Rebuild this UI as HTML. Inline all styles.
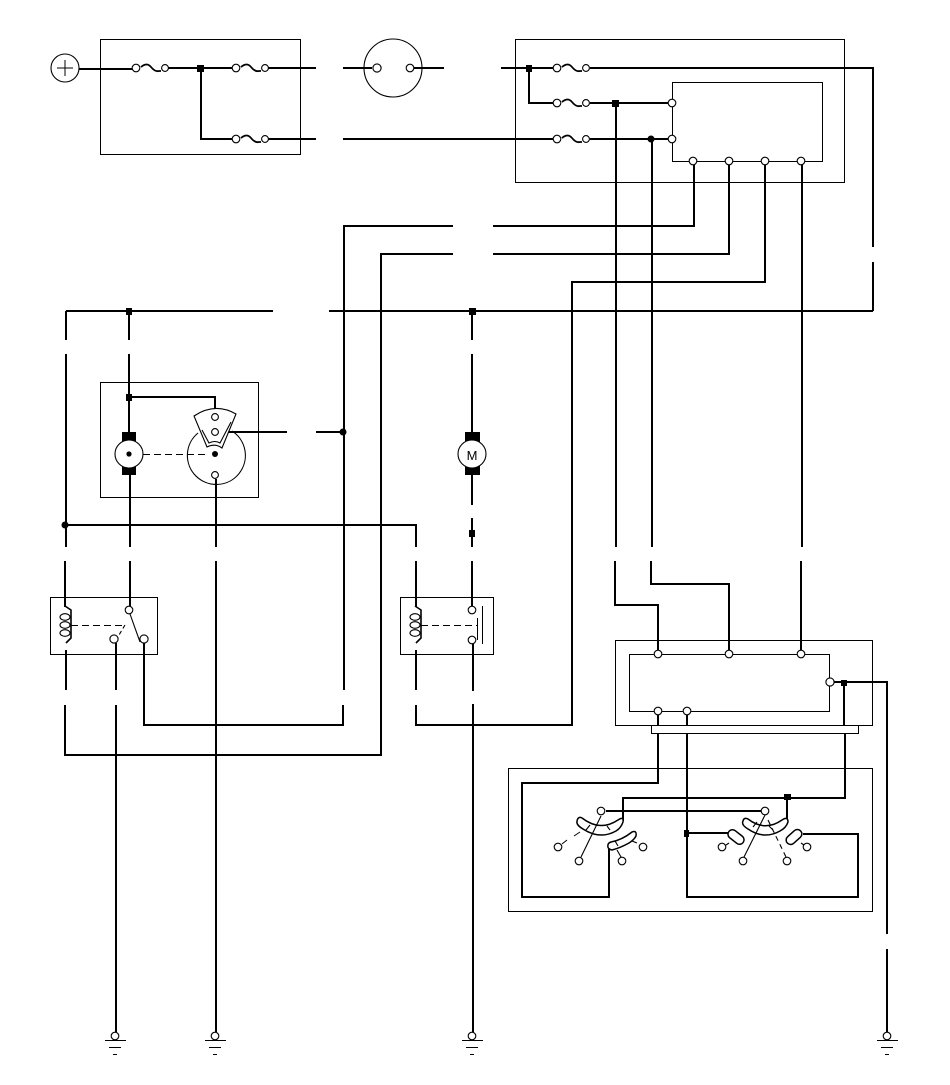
<!DOCTYPE html>
<html><head><meta charset="utf-8"><style>html,body{margin:0;padding:0;background:#fff}svg{display:block}</style></head><body>
<svg xmlns="http://www.w3.org/2000/svg" width="950" height="1085" viewBox="0 0 950 1085">
<rect width="950" height="1085" fill="#fff"/>
<g fill="none" stroke="#000" stroke-width="1" shape-rendering="crispEdges">
<rect x="100.5" y="39.5" width="200" height="115"/>
<rect x="515.5" y="39.5" width="329" height="143"/>
<rect x="672.5" y="82.5" width="150" height="79"/>
<rect x="100.5" y="382.5" width="158" height="115"/>
<rect x="50.5" y="597.5" width="107" height="57"/>
<rect x="400.5" y="597.5" width="93" height="57"/>
<rect x="615.5" y="640.5" width="257" height="85"/>
<rect x="629.5" y="654.5" width="200" height="57"/>
<rect x="651.5" y="725.5" width="207" height="8"/>
<rect x="508.5" y="768.5" width="364" height="143"/>
</g>
<g fill="none" stroke="#000" stroke-width="2.3" stroke-linejoin="miter" stroke-linecap="butt" shape-rendering="crispEdges">
<path d="M79 69H133M168 68H232M268 68H316M201 68V139H232M268 139H316M343 68H372M414 68H444"/>
<path d="M501 68H553M590 68H873V247M873 262V311"/>
<path d="M529 68V103H553M590 103H669M343 139H553M590 139H669"/>
<path d="M616 103V547M615 561V605H658V650M652 139V547M651 561V584H729V650M802 165V547M801 561V650"/>
<path d="M694 165V226H493M453 226H344V690M343 705V725H144V643"/>
<path d="M729 165V254H493M453 254H381V755H65V705"/>
<path d="M765 165V282H572V725H416V705"/>
<path d="M66 311V340M66 354V547M65 561V607M66 311H273M329 311H873"/>
<path d="M129 311V340M129 354V434M129 397H215V412M130 475V547M130 561V606"/>
<path d="M219 432H287M316 432H343"/>
<path d="M216 479V547M216 561V1032"/>
<path d="M472 311V340M472 354V434M472 475V505M472 518V547M472 561V606M473 644V691M473 704V1032"/>
<path d="M66 525H416V547M416 561V607M416 650V690"/>
<path d="M66 650V690M116 643V690M116 705V1032"/>
<path d="M658 715V726M658 733V783H522V897H609V846"/>
<path d="M687 715V726M687 733V897H858V834H803M687 833H730"/>
<path d="M834 682H887V934M887 949V1032M844 682V726M845 733V798H623V821M787 798V821M606 811H761"/>
</g>
<g fill="#000" shape-rendering="crispEdges">
<rect x="197" y="65" width="7" height="7"/><rect x="526" y="65" width="6" height="7"/><rect x="612" y="100" width="7" height="7"/>
<rect x="126" y="308" width="6" height="7"/><rect x="126" y="394" width="6" height="7"/><rect x="469" y="308" width="7" height="7"/>
<rect x="469" y="530" width="6" height="7"/><rect x="841" y="680" width="6" height="6"/><rect x="784" y="794" width="7" height="6"/><rect x="684" y="830" width="5" height="7"/>
<rect x="122" y="432" width="14" height="10"/><rect x="122" y="466" width="14" height="9"/>
<rect x="465" y="432" width="15" height="10"/><rect x="465" y="466" width="15" height="9"/>
</g>
<g fill="#000"><circle cx="651" cy="139" r="3.5"/><circle cx="343" cy="432" r="3.5"/><circle cx="65" cy="525" r="3.5"/></g>
<g fill="none" stroke="#000" stroke-width="1.1">
<circle cx="65" cy="68" r="14"/><path d="M57 68H73M65 60V76" shape-rendering="crispEdges"/>
<circle cx="393" cy="68" r="29"/>
<path d="M141 67Q147 62 151 67T159 71H161M241 67Q247 62 251 67T259 71H261M241 138Q247 133 251 138T259 142H261M562 67Q568 62 572 67T580 71H582M562 102Q568 97 572 102T580 106H582M562 138Q568 133 572 138T580 142H582" stroke-width="1.8"/>
<circle cx="129" cy="454" r="14" fill="#fff"/><circle cx="472" cy="454" r="14" fill="#fff"/>
<path d="M198 433A29 29 0 1 0 232 431"/>
<path d="M194 416Q215 402 236 414L222 448Q215 443 207 447Z" fill="#fff"/>
<path d="M202 430L209 443Q215 440 220 443L231 422" />
<path d="M143 454.5H208" stroke-dasharray="7 4" shape-rendering="crispEdges" stroke-width="1.3"/>
<path d="M105 1040.5H126M109 1047.5H121M113 1054.5H117M205 1040.5H226M209 1047.5H221M213 1054.5H217M462 1040.5H483M466 1047.5H478M470 1054.5H474M877 1040.5H898M881 1047.5H893M885 1054.5H889" shape-rendering="crispEdges"/>
<path d="M65 606L71 610V638L66 643M415 606L421 610V638L416 643" stroke-width="1.6"/>
<ellipse cx="65" cy="617" rx="5" ry="3.3"/><ellipse cx="65" cy="625" rx="5" ry="3.3"/><ellipse cx="65" cy="633" rx="5" ry="3.3"/>
<ellipse cx="415" cy="617" rx="5" ry="3.3"/><ellipse cx="415" cy="625" rx="5" ry="3.3"/><ellipse cx="415" cy="633" rx="5" ry="3.3"/>
<path d="M71 625.5H126M421 625.5H477" stroke-dasharray="7 4" shape-rendering="crispEdges" stroke-width="1.3"/>
<path d="M130 614L140 642"/><path d="M125 625L119 635" stroke-dasharray="4 3"/>
<path d="M482.5 606V644" shape-rendering="crispEdges"/><path d="M477.5 618V640" shape-rendering="crispEdges" stroke-width="1.4"/>
<path d="M582 818Q600 832 618 820Q624 816 623 822Q621 828 616 831Q600 840 583 829Q576 825 577 821Q578 816 582 818Z" stroke-width="1.5" fill="#fff"/>
<path d="M611 842Q622 840 632 832Q637 830 636 836Q634 840 629 843Q620 848 612 850Q607 849 608 845Q608 843 611 842Z" stroke-width="1.5" fill="#fff"/>
<path d="M601 816L581 857M590 825L586 830M607 826L610 830M615 841L618 846M617 850L621 857M632 841L637 843"/>
<path d="M580 832L574 836M567 840L562 844" stroke-width="1"/>
<path d="M748 819Q765 832 782 820Q788 816 788 822Q786 828 780 831Q764 840 748 829Q741 825 743 821Q744 817 748 819Z" stroke-width="1.5" fill="#fff"/>
<rect x="-9" y="-4.5" width="18" height="9" rx="4.5" transform="translate(736 837) rotate(38)" fill="#fff" stroke-width="1.5"/>
<rect x="-9" y="-4.5" width="18" height="9" rx="4.5" transform="translate(794 837) rotate(-42)" fill="#fff" stroke-width="1.5"/>
<path d="M765 815L744 857M757 822L753 827M769 826L773 830M729 843L726 845M801 843L804 845"/>
<path d="M768 820L786 857" stroke-dasharray="5 4"/>
</g>
<text x="472" y="460" text-anchor="middle" font-family="Liberation Sans, sans-serif" font-size="13" fill="#000">M</text>
<g fill="#fff" stroke="#000" stroke-width="1.1">
<circle cx="136" cy="68" r="3.8"/><circle cx="165" cy="68" r="3.4"/><circle cx="236" cy="68" r="3.8"/><circle cx="265" cy="68" r="3.4"/>
<circle cx="236" cy="139" r="3.8"/><circle cx="265" cy="139" r="3.4"/><circle cx="377" cy="68" r="4.1"/><circle cx="410" cy="68" r="3.8"/>
<circle cx="557" cy="68" r="3.8"/><circle cx="586" cy="68" r="3.4"/><circle cx="557" cy="103" r="3.8"/><circle cx="586" cy="103" r="3.4"/><circle cx="557" cy="139" r="3.8"/><circle cx="586" cy="139" r="3.4"/>
<circle cx="672" cy="103" r="3.8"/><circle cx="672" cy="139" r="3.8"/>
<circle cx="693" cy="161" r="3.8"/><circle cx="729" cy="161" r="3.8"/><circle cx="765" cy="161" r="3.8"/><circle cx="801" cy="161" r="3.8"/>
<circle cx="215" cy="417" r="3.4"/><circle cx="215" cy="432" r="3.4"/><circle cx="215" cy="475" r="3.4"/>
<circle cx="129" cy="610" r="3.8"/><circle cx="114" cy="639" r="4.1"/><circle cx="144" cy="639" r="4.1"/>
<circle cx="472" cy="610" r="3.8"/><circle cx="472" cy="640" r="3.8"/>
<circle cx="658" cy="654" r="3.8"/><circle cx="729" cy="654" r="3.8"/><circle cx="801" cy="654" r="3.8"/><circle cx="830" cy="682" r="4.1"/><circle cx="658" cy="711" r="3.8"/><circle cx="687" cy="711" r="3.8"/>
<circle cx="601" cy="811" r="3.8"/><circle cx="558" cy="847" r="3.8"/><circle cx="579" cy="861" r="3.8"/><circle cx="622" cy="861" r="3.8"/><circle cx="643" cy="847" r="3.8"/>
<circle cx="765" cy="811" r="3.8"/><circle cx="722" cy="847" r="3.8"/><circle cx="807" cy="847" r="3.8"/><circle cx="743" cy="861" r="3.8"/><circle cx="787" cy="861" r="3.8"/>
<circle cx="115" cy="1036" r="3.8"/><circle cx="215" cy="1036" r="3.8"/><circle cx="472" cy="1036" r="3.8"/><circle cx="887" cy="1036" r="3.8"/>
</g>
<g fill="#000"><circle cx="129" cy="454" r="2.6"/><circle cx="215" cy="454" r="3"/></g>
</svg>
</body></html>
